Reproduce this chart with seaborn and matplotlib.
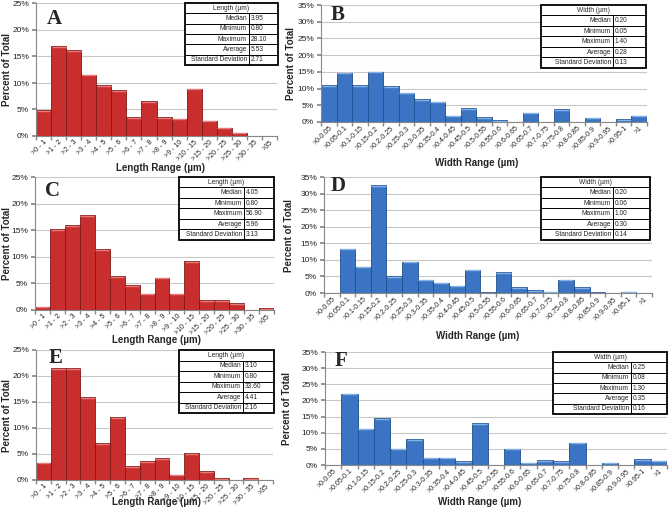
import numpy as np
import pandas as pd
import seaborn as sns
import matplotlib.pyplot as plt
from matplotlib.patches import Rectangle
from matplotlib.lines import Line2D

# ---- data ----
length_bins = ['>0 - 1', '>1 - 2', '>2 - 3', '>3 - 4', '>4 - 5', '>5 - 6', '>6 - 7', '>7 - 8',
               '>8 - 9', '>9 - 10', '>10 - 15', '>15 - 20', '>20 - 25', '>25 - 30', '>30 - 35', '>35']
width_bins = ['>0-0.05', '>0.05-0.1', '>0.1-0.15', '>0.15-0.2', '>0.2-0.25', '>0.25-0.3', '>0.3-0.35',
              '>0.35-0.4', '>0.4-0.45', '>0.45-0.5', '>0.5-0.55', '>0.55-0.6', '>0.6-0.65', '>0.65-0.7',
              '>0.7-0.75', '>0.75-0.8', '>0.8-0.85', '>0.85-0.9', '>0.9-0.95', '>0.95-1', '>1']

length_a = [4.9, 16.9, 16.2, 11.6, 9.6, 8.7, 3.6, 6.6, 3.6, 3.3, 8.9, 2.9, 1.6, 0.6, 0, 0]
width_b = [11.0, 14.7, 11.0, 15.0, 10.7, 8.8, 6.8, 6.1, 1.8, 4.1, 1.4, 0.5, 0, 2.8, 0, 3.8, 0, 1.2, 0, 0.8, 1.9]
length_c = [0.6, 15.25, 15.9, 17.8, 11.4, 6.4, 4.7, 3.1, 6.1, 3.1, 9.2, 1.9, 1.9, 1.3, 0, 0.3]
width_d = [0, 13.4, 7.9, 32.5, 5.0, 9.5, 3.9, 3.0, 2.2, 7.0, 0.2, 6.2, 1.7, 0.8, 0.3, 3.9, 1.7, 0.2, 0, 0.3, 0]
length_e = [3.3, 21.5, 21.5, 15.9, 7.1, 12.1, 2.6, 3.6, 4.2, 1.0, 5.2, 1.7, 0.3, 0, 0.3, 0]
width_f = [0, 22.1, 11.2, 14.5, 5.1, 8.0, 2.2, 2.2, 1.2, 12.9, 0, 5.0, 0.6, 1.5, 1.2, 6.9, 0, 0.6, 0, 1.8, 1.3]

stat_names = ['Median', 'Minimum', 'Maximum', 'Average', 'Standard Deviation']
stats_a = ['3.95', '0.80', '28.10', '5.53', '2.71']
stats_b = ['0.20', '0.05', '1.40', '0.28', '0.13']
stats_c = ['4.05', '0.80', '56.90', '5.96', '3.13']
stats_d = ['0.20', '0.06', '1.00', '0.30', '0.14']
stats_e = ['3.10', '0.80', '33.60', '4.41', '2.16']
stats_f = ['0.25', '0.08', '1.30', '0.35', '0.16']

RED, RED_EDGE, RED_TOP = '#c92e2e', '#7e1717', '#e87a7a'
BLUE, BLUE_EDGE, BLUE_TOP = '#3a74c2', '#1f4f8e', '#86b2e8'

sns.set_theme(style='white')
plt.rcParams['font.family'] = ['Liberation Sans', 'DejaVu Sans']

W, H = 669, 511
fig = plt.figure(figsize=(W / 100, H / 100), dpi=100)

# layout in reference pixels: axes box, table box, letter, xlabel, ylabel x
panels = [
    dict(letter='A', bins=length_bins, vals=length_a, stats=stats_a, title='Length (µm)', xlab='Length Range (µm)',
         color=RED, edge=RED_EDGE, top=RED_TOP, ymax=25, box=(36, 3.5, 277, 136), tab=(185, 3, 278, 65, 249),
         let=(54, 19), xl=(160, 168), yl=7),
    dict(letter='B', bins=width_bins, vals=width_b, stats=stats_b, title='Width (µm)', xlab='Width Range (µm)',
         color=BLUE, edge=BLUE_EDGE, top=BLUE_TOP, ymax=35, box=(321, 5, 647, 122), tab=(541, 5, 646, 68, 613),
         let=(338, 15), xl=(477, 163), yl=291),
    dict(letter='C', bins=length_bins, vals=length_c, stats=stats_c, title='Length (µm)', xlab='Length Range (µm)',
         color=RED, edge=RED_EDGE, top=RED_TOP, ymax=25, box=(35, 177, 274, 310), tab=(179, 177, 274, 240, 244),
         let=(53, 191), xl=(157, 340), yl=7),
    dict(letter='D', bins=width_bins, vals=width_d, stats=stats_d, title='Width (µm)', xlab='Width Range (µm)',
         color=BLUE, edge=BLUE_EDGE, top=BLUE_TOP, ymax=35, box=(324, 177, 652, 293), tab=(541, 177, 650, 240, 613),
         let=(338, 186), xl=(478, 336), yl=289),
    dict(letter='E', bins=length_bins, vals=length_e, stats=stats_e, title='Length (µm)', xlab='Length Range (µm)',
         color=RED, edge=RED_EDGE, top=RED_TOP, ymax=25, box=(36, 350, 273, 480), tab=(179, 350, 274, 413, 243),
         let=(56, 358), xl=(157, 502), yl=7),
    dict(letter='F', bins=width_bins, vals=width_f, stats=stats_f, title='Width (µm)', xlab='Width Range (µm)',
         color=BLUE, edge=BLUE_EDGE, top=BLUE_TOP, ymax=35, box=(325, 352, 667, 465), tab=(553, 352, 667, 414, 631),
         let=(341, 361), xl=(480, 502), yl=287),
]


def fx(x):
    return x / W


def fy(y):
    return 1 - y / H


def draw_table(l, t, r, b, div, title, values):
    rows = 6
    rh = (b - t) / rows
    fig.add_artist(Rectangle((fx(l), fy(b)), fx(r) - fx(l), fy(t) - fy(b), facecolor='white',
                             edgecolor='black', lw=1.3, transform=fig.transFigure, zorder=5))
    for i in range(1, rows):
        y = fy(t + i * rh)
        fig.add_artist(Line2D([fx(l), fx(r)], [y, y], color='black', lw=0.7,
                              transform=fig.transFigure, zorder=6))
    fig.add_artist(Line2D([fx(div), fx(div)], [fy(t + rh), fy(b)], color='black', lw=0.7,
                          transform=fig.transFigure, zorder=6))
    fig.text(fx((l + r) / 2), fy(t + rh / 2), title, ha='center', va='center', fontsize=4.8, zorder=7)
    for i, (name, v) in enumerate(zip(stat_names, values)):
        yy = fy(t + (i + 1.5) * rh)
        fig.text(fx(div - 2), yy, name, ha='right', va='center', fontsize=4.8, zorder=7)
        fig.text(fx(div + 1.5), yy, v, ha='left', va='center', fontsize=4.8, zorder=7)


for p in panels:
    l, t, r, b = p['box']
    ax = fig.add_axes([fx(l), fy(b), fx(r) - fx(l), fy(t) - fy(b)])
    df = pd.DataFrame({'bin': p['bins'], 'pct': p['vals']})
    sns.barplot(data=df, x='bin', y='pct', color=p['color'], width=1, saturation=1,
                edgecolor=p['edge'], linewidth=0.6, ax=ax)
    # light cap on each bar, like the bevelled Excel bars
    for bar in ax.patches:
        h = bar.get_height()
        if h > 0.15:
            x0 = bar.get_x()
            ax.plot([x0 + 0.04, x0 + bar.get_width() - 0.04], [h - 0.12, h - 0.12],
                    color=p['top'], lw=1.0, solid_capstyle='butt', zorder=3)
    n = len(p['bins'])
    ax.set_xlim(-0.5, n - 0.5)
    ax.set_ylim(0, p['ymax'])
    yt = list(range(0, p['ymax'] + 1, 5))
    ax.set_yticks(yt)
    ax.set_yticklabels([f'{v}%' for v in yt], fontsize=6, color='#222222')
    ax.set_xticks(range(n))
    ax.set_xticklabels(p['bins'], rotation=45, ha='right', rotation_mode='anchor', fontsize=5, color='#222222')
    ax.tick_params(axis='x', which='major', length=0, pad=2)
    ax.set_xticks(np.arange(-0.5, n, 1), minor=True)
    ax.tick_params(axis='x', which='minor', length=3, color='#888888', direction='out', bottom=True)
    ax.tick_params(axis='y', length=3, color='#888888', left=True, pad=2)
    ax.yaxis.grid(True, color='#c8c8c8', lw=0.8)
    ax.set_axisbelow(True)
    for s in ['top', 'right']:
        ax.spines[s].set_visible(False)
    for s in ['left', 'bottom']:
        ax.spines[s].set_color('#888888')
        ax.spines[s].set_linewidth(0.8)

    ax.set_xlabel(p['xlab'], fontsize=7, fontweight='bold')
    ax.xaxis.set_label_coords((p['xl'][0] - l) / (r - l), (b - p['xl'][1]) / (b - t))
    ax.xaxis.label.set_va('center')
    ax.set_ylabel('Percent of Total', fontsize=7, fontweight='bold')
    ax.yaxis.set_label_coords((p['yl'] - l) / (r - l), 0.5)
    ax.yaxis.label.set_va('center')

    fig.text(fx(p['let'][0]), fy(p['let'][1]), p['letter'], ha='center', va='center',
             fontsize=15, fontweight='bold', family=['Liberation Serif', 'DejaVu Serif'])
    draw_table(*p['tab'], p['title'], p['stats'])

fig.savefig('out.png', dpi=100)
